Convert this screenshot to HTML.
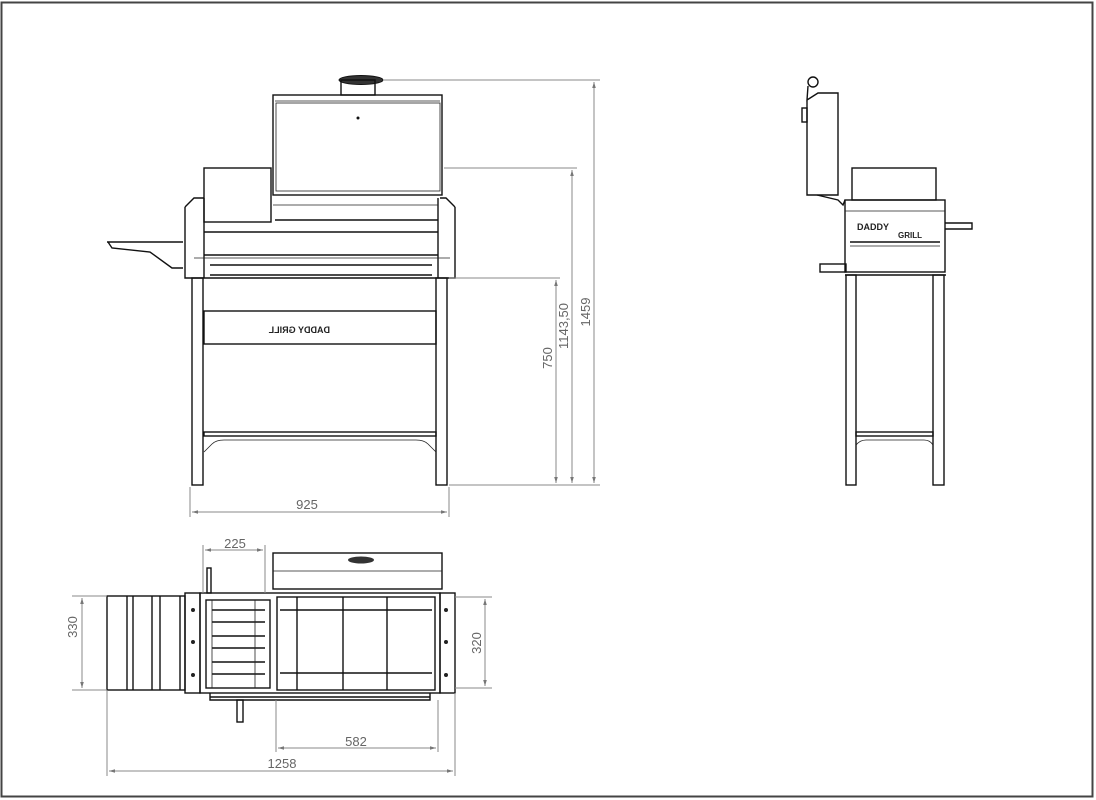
<!DOCTYPE html>
<html><head><meta charset="utf-8"><style>
html,body{margin:0;padding:0;background:#fff;}
svg{display:block;}
.k{stroke:#111;fill:none;stroke-width:1.4}
.t{stroke:#222;fill:none;stroke-width:0.8}
.d{stroke:#888;fill:none;stroke-width:1}
text{font-family:"Liberation Sans",sans-serif;fill:#666;font-size:13px}
</style></head><body>
<svg width="1096" height="800" viewBox="0 0 1096 800" xmlns="http://www.w3.org/2000/svg">
<defs>
<marker id="a" viewBox="0 0 10 10" refX="10" refY="5" markerWidth="9" markerHeight="6" orient="auto-start-reverse"><path d="M0,2 L10,5 L0,8z" fill="#777"/></marker>
</defs>
<rect x="1.5" y="2.5" width="1091" height="794" fill="none" stroke="#444" stroke-width="2"/>

<!-- FRONT VIEW -->
<g>
<ellipse cx="361" cy="80" rx="22" ry="4.5" fill="#333" stroke="#111"/>
<rect class="k" x="341" y="80" width="34" height="15"/>
<rect class="k" x="273" y="95" width="169" height="100"/>
<line class="t" x1="275" y1="101" x2="440" y2="101"/>
<rect class="t" x="276" y="103" width="164" height="88"/>
<circle cx="358" cy="118" r="1.5" fill="#111"/>
<rect class="k" x="204" y="168" width="67" height="54"/>
<path class="k" d="M185,207 L194,198 L204,198 M455,207 L446,198 L440,198"/>
<path class="k" d="M185,207 L185,278 L455,278 L455,207"/>
<line class="k" x1="204" y1="198" x2="204" y2="278"/>
<line class="k" x1="438" y1="198" x2="438" y2="278"/>
<line class="t" x1="273" y1="205" x2="438" y2="205"/>
<line class="k" x1="275" y1="220" x2="438" y2="220"/>
<line class="k" x1="204" y1="232" x2="438" y2="232"/>
<line class="k" x1="204" y1="255" x2="438" y2="255"/>
<line class="t" x1="194" y1="258" x2="450" y2="258"/>
<line class="k" x1="210" y1="265" x2="432" y2="265"/>
<line class="k" x1="210" y1="275" x2="432" y2="275"/>
<path class="k" d="M107,242 L183,242 M108,242 L112,248 L150,252 L172,268 L183,268"/>
<rect class="k" x="192" y="278" width="11" height="207"/>
<rect class="k" x="436" y="278" width="11" height="207"/>
<rect class="k" x="204" y="311" width="232" height="33"/>
<text x="290" y="333" style="font-size:9px;fill:#222;font-weight:bold" transform="scale(-1,1) translate(-620,0)">DADDY GRILL</text>
<rect class="k" x="204" y="432" width="232" height="4"/>
<path class="t" d="M204,452 L212,444 Q216,440 224,440 L416,440 Q424,440 428,444 L436,452"/>
</g>

<!-- front dims -->
<g>
<line class="d" x1="190" y1="487" x2="190" y2="517"/>
<line class="d" x1="449" y1="487" x2="449" y2="517"/>
<line class="d" x1="192" y1="512" x2="447" y2="512" marker-start="url(#a)" marker-end="url(#a)"/>
<text x="307" y="509" text-anchor="middle">925</text>
<line class="d" x1="384" y1="80" x2="600" y2="80"/>
<line class="d" x1="444" y1="168" x2="577" y2="168"/>
<line class="d" x1="449" y1="278" x2="560" y2="278"/>
<line class="d" x1="449" y1="485" x2="600" y2="485"/>
<line class="d" x1="556" y1="280" x2="556" y2="483" marker-start="url(#a)" marker-end="url(#a)"/>
<line class="d" x1="572" y1="170" x2="572" y2="483" marker-start="url(#a)" marker-end="url(#a)"/>
<line class="d" x1="594" y1="82" x2="594" y2="483" marker-start="url(#a)" marker-end="url(#a)"/>
<text transform="translate(552,358) rotate(-90)" text-anchor="middle">750</text>
<text transform="translate(568,326) rotate(-90)" text-anchor="middle">1143,50</text>
<text transform="translate(590,312) rotate(-90)" text-anchor="middle">1459</text>
</g>

<!-- SIDE VIEW -->
<g>
<circle class="k" cx="813" cy="82" r="5"/>
<path class="k" d="M808,86 L807,100 L818,93 L838,93 L838,195 L807,195 L807,100"/>
<rect class="k" x="802" y="108" width="5" height="14"/>
<path class="k" d="M817,195 L838,200 L843,205 L845,200"/>
<rect class="k" x="852" y="168" width="84" height="32"/>
<rect class="k" x="845" y="200" width="100" height="72"/>
<line class="t" x1="845" y1="211" x2="945" y2="211"/>
<line class="k" x1="850" y1="242" x2="940" y2="242"/>
<line class="t" x1="850" y1="246" x2="940" y2="246"/>
<text x="857" y="230" style="font-size:9px;fill:#222;font-weight:bold">DADDY</text>
<text x="898" y="238" style="font-size:8px;fill:#222;font-weight:bold">GRILL</text>
<path class="k" d="M945,223 L972,223 L972,229 L945,229"/>
<rect class="k" x="820" y="264" width="26" height="8"/>
<line class="k" x1="845" y1="275" x2="946" y2="275"/>
<rect class="k" x="846" y="275" width="10" height="210"/>
<rect class="k" x="933" y="275" width="11" height="210"/>
<rect class="k" x="856" y="432" width="77" height="4"/>
<path class="t" d="M856,445 Q860,440 866,440 L924,440 Q930,440 933,445"/>
</g>

<!-- TOP VIEW -->
<g>
<rect class="k" x="273" y="553" width="169" height="36"/>
<line class="t" x1="273" y1="571" x2="442" y2="571"/>
<ellipse cx="361" cy="560" rx="13" ry="3.5" fill="#333"/>
<rect class="k" x="207" y="568" width="4" height="25"/>
<rect class="k" x="107" y="596" width="78" height="94"/>
<line class="k" x1="127" y1="596" x2="127" y2="690"/>
<line class="k" x1="133" y1="596" x2="133" y2="690"/>
<line class="k" x1="152" y1="596" x2="152" y2="690"/>
<line class="k" x1="160" y1="596" x2="160" y2="690"/>
<line class="k" x1="180" y1="596" x2="180" y2="690"/>
<rect class="k" x="185" y="593" width="15" height="100"/>
<rect class="k" x="200" y="593" width="240" height="100"/>
<rect class="k" x="440" y="593" width="15" height="100"/>
<rect class="k" x="206" y="600" width="64" height="88"/>
<line class="k" x1="212" y1="610" x2="265" y2="610"/>
<line class="k" x1="212" y1="622" x2="265" y2="622"/>
<line class="k" x1="212" y1="636" x2="265" y2="636"/>
<line class="k" x1="212" y1="648" x2="265" y2="648"/>
<line class="k" x1="212" y1="662" x2="265" y2="662"/>
<line class="k" x1="212" y1="674" x2="265" y2="674"/>
<line class="t" x1="212" y1="600" x2="212" y2="688"/>
<line class="t" x1="255" y1="600" x2="255" y2="688"/>
<rect class="k" x="277" y="597" width="158" height="93"/>
<line class="k" x1="297" y1="597" x2="297" y2="690"/>
<line class="k" x1="343" y1="597" x2="343" y2="690"/>
<line class="k" x1="387" y1="597" x2="387" y2="690"/>
<line class="k" x1="280" y1="610" x2="432" y2="610"/>
<line class="k" x1="280" y1="673" x2="432" y2="673"/>
<line class="k" x1="210" y1="697" x2="430" y2="697"/>
<path class="k" d="M210,693 L210,700 L430,700 L430,693"/>
<rect class="k" x="237" y="700" width="6" height="22"/>
<circle cx="193" cy="610" r="2" fill="#222"/><circle cx="193" cy="642" r="2" fill="#222"/><circle cx="193" cy="675" r="2" fill="#222"/>
<circle cx="446" cy="610" r="2" fill="#222"/><circle cx="446" cy="642" r="2" fill="#222"/><circle cx="446" cy="675" r="2" fill="#222"/>
</g>

<!-- top dims -->
<g>
<line class="d" x1="203" y1="545" x2="203" y2="593"/>
<line class="d" x1="265" y1="545" x2="265" y2="593"/>
<line class="d" x1="205" y1="550" x2="263" y2="550" marker-start="url(#a)" marker-end="url(#a)"/>
<text x="235" y="548" text-anchor="middle">225</text>
<line class="d" x1="72" y1="596" x2="107" y2="596"/>
<line class="d" x1="72" y1="690" x2="107" y2="690"/>
<line class="d" x1="82" y1="598" x2="82" y2="688" marker-start="url(#a)" marker-end="url(#a)"/>
<text transform="translate(77,627) rotate(-90)" text-anchor="middle">330</text>
<line class="d" x1="455" y1="597" x2="492" y2="597"/>
<line class="d" x1="455" y1="688" x2="492" y2="688"/>
<line class="d" x1="485" y1="599" x2="485" y2="686" marker-start="url(#a)" marker-end="url(#a)"/>
<text transform="translate(481,643) rotate(-90)" text-anchor="middle">320</text>
<line class="d" x1="276" y1="700" x2="276" y2="752"/>
<line class="d" x1="438" y1="700" x2="438" y2="752"/>
<line class="d" x1="278" y1="748" x2="436" y2="748" marker-start="url(#a)" marker-end="url(#a)"/>
<text x="356" y="746" text-anchor="middle">582</text>
<line class="d" x1="107" y1="690" x2="107" y2="776"/>
<line class="d" x1="455" y1="693" x2="455" y2="776"/>
<line class="d" x1="109" y1="771" x2="453" y2="771" marker-start="url(#a)" marker-end="url(#a)"/>
<text x="282" y="768" text-anchor="middle">1258</text>
</g>
</svg>
</body></html>
